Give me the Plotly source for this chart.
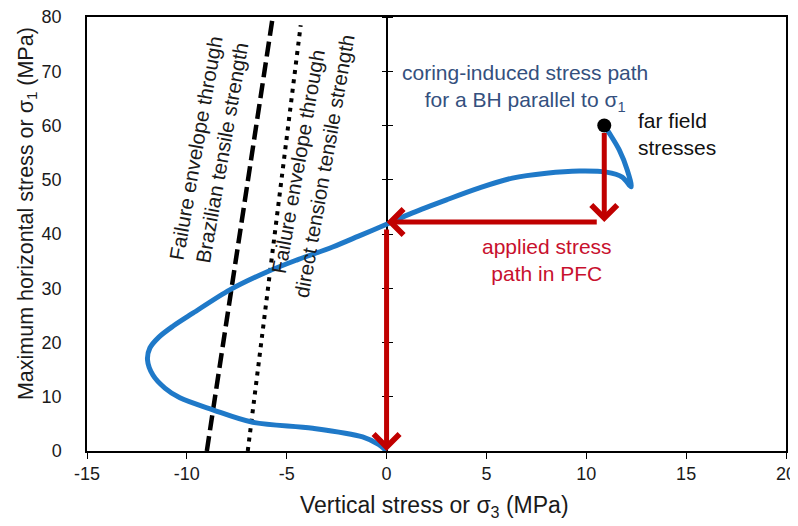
import plotly.graph_objects as go

# ---- data ----
path_x = [10.9, 11.15, 11.65, 12.05, 12.25, 11.8, 11.0, 9.65, 8.0, 6.3, 4.65, 3.0, 1.3, 0.0,
          -1.4, -2.7, -4.5, -6.0, -7.85, -9.7, -10.7, -11.4, -11.85, -11.97, -11.7, -11.1,
          -10.35, -8.7, -6.7, -3.7, -1.2, -0.4, 0.0]
path_y = [60, 58.6, 55.5, 51.8, 48.7, 50.5, 51.4, 51.6, 51.2, 50.3, 48.5, 46.3, 43.9, 41.8,
          39.6, 37.6, 35.2, 33.0, 29.7, 25.4, 23.0, 21.0, 19.0, 16.8, 14.0, 11.6,
          9.8, 7.6, 5.3, 4.2, 2.6, 1.2, 0.0]

brazilian_x = [-9.0, -5.7]
brazilian_y = [0, 80]
direct_x = [-6.95, -4.3]
direct_y = [0, 78.5]

far_field_x = [10.9]
far_field_y = [60]

# applied stress path in PFC: (tail x, tail y, head x, head y)
arrow_tail_x = [10.9, 10.9, 0.0]
arrow_tail_y = [60, 42.2, 42.2]
arrow_head_x = [10.9, 0.0, 0.0]
arrow_head_y = [42.2, 42.2, 0.0]

x_ticks = [-15, -10, -5, 0, 5, 10, 15, 20]
x_tick_labels = ["-15", "-10", "-5", "0", "5", "10", "15", "20"]
y_ticks = [0, 10, 20, 30, 40, 50, 60, 70, 80]
y_tick_labels = ["0", "10", "20", "30", "40", "50", "60", "70", "80"]

FONT = "Liberation Sans, Arial, sans-serif"
BLUE = "#1f79c8"
RED = "#c00000"

fig = go.Figure()

fig.add_trace(go.Scatter(x=brazilian_x, y=brazilian_y, mode="lines",
                         line=dict(color="black", width=4.5, dash="15px,6px"),
                         hoverinfo="skip", showlegend=False))
fig.add_trace(go.Scatter(x=direct_x, y=direct_y, mode="lines",
                         line=dict(color="black", width=4, dash="4px,5.5px"),
                         hoverinfo="skip", showlegend=False))
fig.add_trace(go.Scatter(x=path_x, y=path_y, mode="lines", yaxis="y2",
                         line=dict(color=BLUE, width=5, shape="spline", smoothing=0.9),
                         hoverinfo="skip", showlegend=False))
fig.add_trace(go.Scatter(x=far_field_x, y=far_field_y, mode="markers", yaxis="y3",
                         marker=dict(color="black", size=14),
                         hoverinfo="skip", showlegend=False))

annotations = []
for tx, ty, hx, hy in zip(arrow_tail_x, arrow_tail_y, arrow_head_x, arrow_head_y):
    annotations.append(dict(x=hx, y=hy, ax=tx, ay=ty, xref="x", yref="y",
                            axref="x", ayref="y", text="", showarrow=True,
                            arrowhead=4, arrowsize=1.0, arrowwidth=5,
                            arrowcolor=RED, standoff=0, startstandoff=6))

txt = dict(family=FONT, size=20.5, color="#1a1a1a")
annotations += [
    dict(x=-8.9, y=55.5, xref="x", yref="y", showarrow=False, textangle=-80,
         text="Failure envelope through<br>Brazilian tensile strength", font=txt),
    dict(x=-3.75, y=53, xref="x", yref="y", showarrow=False, textangle=-80,
         text="Failure envelope through<br>direct tension tensile strength", font=txt),
    dict(x=6.95, y=66.9, xref="x", yref="y", showarrow=False,
         text="coring-induced stress path<br>for a BH parallel to σ<sub>1</sub>",
         font=dict(family=FONT, size=21, color="#34507e")),
    dict(x=12.5, y=58.5, xref="x", yref="y", showarrow=False, xanchor="left", align="left",
         text="far field<br>stresses", font=dict(family=FONT, size=21, color="#111111")),
    dict(x=8.05, y=35.2, xref="x", yref="y", showarrow=False,
         text="applied stress<br>path in PFC", font=dict(family=FONT, size=21, color="#c8102e")),
    dict(x=-0.0858, y=0.546, xref="paper", yref="paper", showarrow=False, textangle=-90,
         xanchor="center", yanchor="middle",
         text="Maximum horizontal stress or σ<sub>1</sub> (MPa)",
         font=dict(family=FONT, size=21.5, color="#1a1a1a")),
    dict(x=0.497, y=-0.129, xref="paper", yref="paper", showarrow=False,
         xanchor="center", yanchor="middle",
         text="Vertical stress or σ<sub>3</sub> (MPa)",
         font=dict(family=FONT, size=23, color="#1a1a1a")),
]

# the page body adds an 8px margin, so the figure is sized/offset to compensate
fig.update_layout(
    width=798, height=518,
    margin=dict(l=79, r=20, t=9, b=75, autoexpand=False),
    paper_bgcolor="white", plot_bgcolor="white",
    font=dict(family=FONT, size=18, color="#1a1a1a"),
    showlegend=False,
    annotations=annotations,
    xaxis=dict(range=[-15, 20], tickvals=x_ticks, ticktext=x_tick_labels,
               ticks="outside", ticklen=6, automargin=False, ticklabeloverflow="allow",
               tickcolor="black", showline=True, linecolor="black", linewidth=1.5,
               mirror=True, showgrid=False, zeroline=True, zerolinecolor="black",
               zerolinewidth=1.5,
               tickfont=dict(family=FONT, size=18)),
    yaxis=dict(range=[0, 80], tickvals=y_ticks, ticktext=y_tick_labels, ticks="",
               showline=True, automargin=False, ticklabeloverflow="allow",
               linecolor="black", linewidth=1.5, mirror=True, showgrid=False,
               zeroline=False, ticklabelstandoff=20,
               tickfont=dict(family=FONT, size=18)),
    yaxis2=dict(range=[0, 80], tickvals=y_ticks, overlaying="y", anchor="free",
                position=15 / 35, side="left", ticks="outside", ticklen=5,
                tickcolor="black", showticklabels=False, showline=False, automargin=False,
                showgrid=False, zeroline=False),
    yaxis3=dict(range=[0, 80], tickvals=y_ticks, overlaying="y", anchor="free",
                position=15 / 35, side="right", ticks="outside", ticklen=5,
                tickcolor="black", showticklabels=False, showline=False, automargin=False,
                showgrid=False, zeroline=False),
)

fig.write_html("out.html")
